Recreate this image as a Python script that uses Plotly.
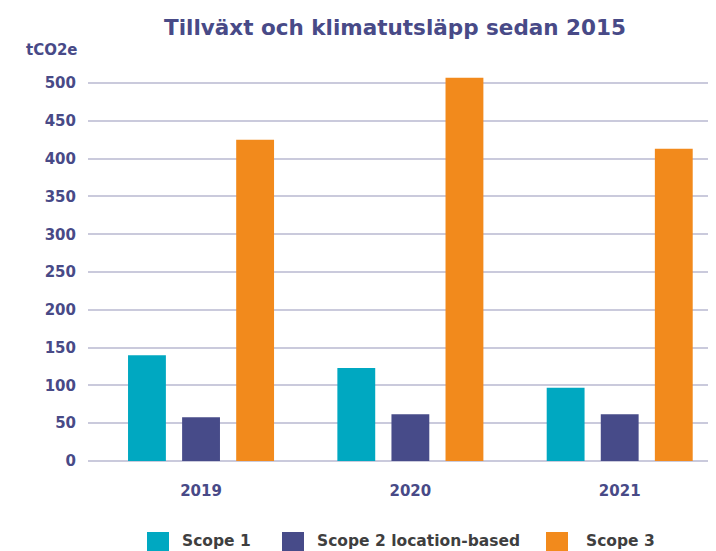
"""
Tillväxt och klimatutsläpp sedan 2015 - grupperat stapeldiagram (tCO2e)
"""

import plotly.graph_objects as go

# ── Data ──
YEARS = ["2019", "2020", "2021"]
SERIES = ["Scope 1", "Scope 2 location-based", "Scope 3"]
SCOPE1 = [140, 123, 97]
SCOPE2 = [58, 62, 62]
SCOPE3 = [425, 507, 413]
Y_TICKS = [0, 50, 100, 150, 200, 250, 300, 350, 400, 450, 500]

# ── Stil ──
COLORS = ["#00a8c1", "#474b89", "#f28a1c"]
TEXT_COLOR = "#484a87"
GRID_COLOR = "#cacadc"
FONT = "'DejaVu Sans', sans-serif"

# sidan har 8px marginal i body -> figuren blir 8px mindre
OFF = 8
W, H = 716 - OFF, 551 - OFF
M_L, M_R, M_T, M_B = 88 - OFF, 0, 68 - OFF, 90
PLOT_W = W - M_L - M_R
PLOT_H = H - M_T - M_B


def px_x(px):
    # skärmpixel -> paper-koordinat
    return (px - OFF - M_L) / PLOT_W


def px_y(py):
    return (H - M_B - (py - OFF)) / PLOT_H


fig = go.Figure()
for name, vals, color in zip(SERIES, [SCOPE1, SCOPE2, SCOPE3], COLORS):
    fig.add_trace(go.Bar(
        name=name, x=YEARS, y=vals,
        marker=dict(color=color, line=dict(width=0)),
        showlegend=False,
    ))

# egen legend: stora fyrkanter + text (x-positioner i skärmpixlar)
legend_sq = [147, 282, 546]
legend_txt = [180, 315, 584]
shapes = []
annotations = []
for name, color, sx, tx in zip(SERIES, COLORS, legend_sq, legend_txt):
    shapes.append(dict(
        type="rect", xref="paper", yref="paper",
        x0=px_x(sx), x1=px_x(sx + 22), y0=px_y(532), y1=px_y(556),
        fillcolor=color, line=dict(width=0),
    ))
    annotations.append(dict(
        text=f"<b>{name}</b>", xref="paper", yref="paper",
        x=px_x(tx), y=px_y(541), xanchor="left", yanchor="middle",
        showarrow=False, font=dict(size=15.5, color="#3f3f3f", family=FONT),
    ))

annotations.append(dict(
    text="<b>tCO2e</b>", xref="paper", yref="paper",
    x=px_x(80), y=px_y(50), xanchor="right", yanchor="middle",
    showarrow=False, font=dict(size=15, color=TEXT_COLOR, family=FONT),
))

fig.update_layout(
    title=dict(
        text="<b>Tillväxt och klimatutsläpp sedan 2015</b>",
        x=(395 - OFF) / W, xanchor="center", y=1 - (27 - OFF) / H, yanchor="middle",
        font=dict(size=21.5, color=TEXT_COLOR, family=FONT),
    ),
    width=W, height=H,
    margin=dict(l=M_L, r=M_R, t=M_T, b=M_B),
    barmode="group", bargap=0.225, bargroupgap=0.3,
    plot_bgcolor="white", paper_bgcolor="white",
    font=dict(family=FONT, color=TEXT_COLOR),
    shapes=shapes, annotations=annotations,
    showlegend=False,
)
fig.update_xaxes(
    range=[-0.54, 2.46], showgrid=False, showline=False, zeroline=False,
    ticks="", ticklabelstandoff=19,
    tickfont=dict(size=15, color=TEXT_COLOR, family=FONT),
    tickprefix="<b>", ticksuffix="</b>",
)
fig.update_yaxes(
    range=[0, 520], tickvals=Y_TICKS, ticktext=[f"<b>{v}</b>" for v in Y_TICKS],
    showgrid=True, gridcolor=GRID_COLOR, gridwidth=2,
    zeroline=True, zerolinecolor=GRID_COLOR, zerolinewidth=2,
    showline=False, ticks="", ticklabelstandoff=11,
    tickfont=dict(size=15, color=TEXT_COLOR, family=FONT),
)

fig.write_html("out.html")
